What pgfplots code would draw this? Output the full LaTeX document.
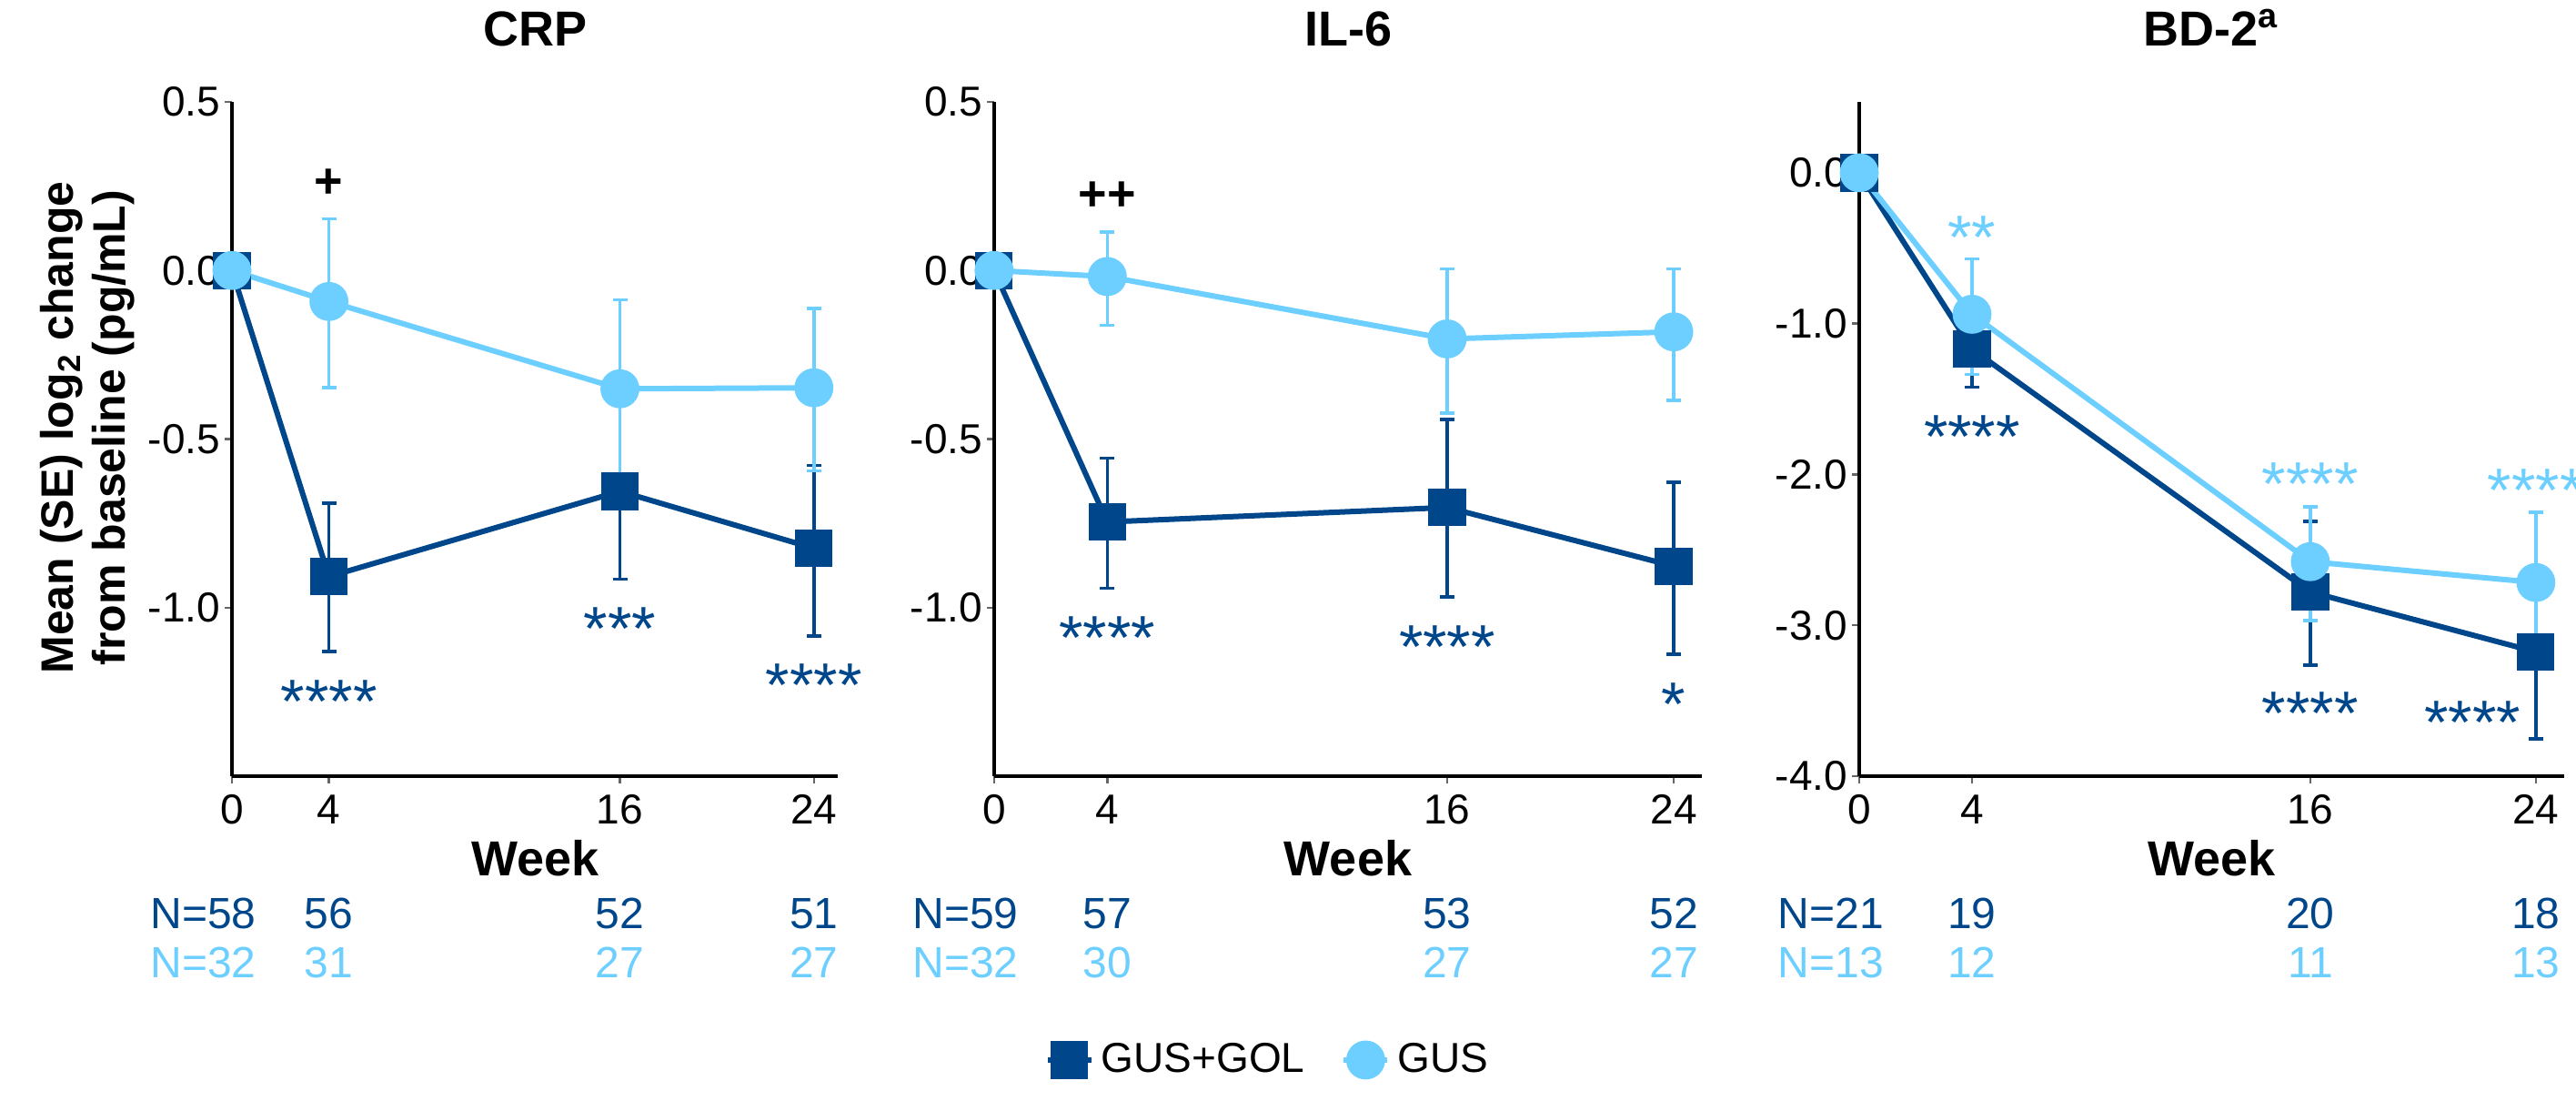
\documentclass[border=0pt]{standalone}
\usepackage{fontspec}
\setmainfont{Liberation Sans}
\usepackage{pgfplots}
\pgfplotsset{compat=1.18}
\definecolor{dk}{HTML}{00468A}
\definecolor{lt}{HTML}{6CCFFF}
\pgfplotsset{
  panel/.style={
    scale only axis, anchor=south west,
    height=185.25pt,
    xmin=0, xmax=25,
    xtick={0,4,16,24}, xticklabels={0,4,16,24},
    axis x line*=bottom, axis y line*=left,
    axis line style={line width=1pt},
    tick align=outside, major tick length=2pt,
    tick style={line width=0.6pt, black!60},
    clip=false,
    ticklabel style={font=\fontsize{11.5}{12}\selectfont},
    xticklabel style={anchor=north, inner sep=0pt, yshift=-3pt},
    yticklabel style={anchor=east, inner sep=0pt, xshift=-1pt},
    title style={font=\fontsize{13.5}{14}\selectfont\bfseries, at={(axis description cs:0.5,1)}, anchor=base, yshift=9.25pt},
    xlabel={Week},
    xlabel style={font=\fontsize{13.5}{14}\selectfont\bfseries, at={(axis description cs:0.5,0)}, anchor=center, yshift=-22.5pt},
    legend image code/.code={\draw[mark repeat=2,mark phase=2,#1] plot coordinates {(-6pt,0pt) (0pt,0pt) (6pt,0pt)};},
  },
  dkser/.style={color=dk, line width=1.5pt, mark=square*, mark size=4.4pt, mark options={solid, fill=dk},
    error bars/y dir=both, error bars/y explicit,
    error bars/error bar style={line width=0.9pt, dk},
    error bars/error mark options={rotate=90, mark size=2pt, line width=0.9pt, dk}},
  ltser/.style={color=lt, line width=1.5pt, mark=*, mark size=4.6pt, mark options={solid, fill=lt},
    error bars/y dir=both, error bars/y explicit,
    error bars/error bar style={line width=0.9pt, lt},
    error bars/error mark options={rotate=90, mark size=2pt, line width=0.9pt, lt}},
}
\tikzset{
  ast/.style={anchor=base, yshift=-9.6pt, font=\fontsize{17}{17}\selectfont, inner sep=0pt},
  pl/.style={anchor=center, font=\fontsize{13.5}{14}\selectfont\bfseries, inner sep=0pt},
  nl/.style={anchor=center, font=\fontsize{12}{12}\selectfont, inner sep=0pt},
}
\begin{document}
\begin{tikzpicture}
\useasboundingbox (0,0) rectangle (708pt,302.25pt);
% ---------------- CRP ----------------
\begin{axis}[panel, at={(63.75pt,89pt)}, width=166.6pt,
  ymin=-1.5, ymax=0.5, ytick={-1,-0.5,0,0.5}, yticklabels={-1.0,-0.5,0.0,0.5},
  title={CRP}]
\addplot[dkser] table[x=x,y=y,y error plus=ep,y error minus=em] {
x y ep em
0 0 0 0
4 -0.908 0.218 0.222
16 -0.655 0.261 0.261
24 -0.824 0.246 0.260
};
\addplot[ltser] table[x=x,y=y,y error plus=ep,y error minus=em] {
x y ep em
0 0 0 0
4 -0.092 0.245 0.256
16 -0.351 0.264 0.264
24 -0.348 0.235 0.246
};
\node[pl] at (axis cs:4,0.258) {+};
\node[ast, dk] at (axis cs:4,-1.238) {****};
\node[ast, dk] at (axis cs:16,-1.023) {***};
\node[ast, dk] at (axis cs:24,-1.19) {****};
\node[nl, dk] at ({axis cs:0,0}|-{rel axis cs:0,-0.2038}) {\llap{N=}58};
\node[nl, dk] at ({axis cs:4,0}|-{rel axis cs:0,-0.2038}) {56};
\node[nl, dk] at ({axis cs:16,0}|-{rel axis cs:0,-0.2038}) {52};
\node[nl, dk] at ({axis cs:24,0}|-{rel axis cs:0,-0.2038}) {51};
\node[nl, lt] at ({axis cs:0,0}|-{rel axis cs:0,-0.2767}) {\llap{N=}32};
\node[nl, lt] at ({axis cs:4,0}|-{rel axis cs:0,-0.2767}) {31};
\node[nl, lt] at ({axis cs:16,0}|-{rel axis cs:0,-0.2767}) {27};
\node[nl, lt] at ({axis cs:24,0}|-{rel axis cs:0,-0.2767}) {27};
\end{axis}
% ---------------- IL-6 ----------------
\begin{axis}[panel, at={(273.2pt,89pt)}, width=194.6pt,
  ymin=-1.5, ymax=0.5, ytick={-1,-0.5,0,0.5}, yticklabels={-1.0,-0.5,0.0,0.5},
  title={IL-6},
  legend columns=2,
  legend style={at={(0.39,-0.421)}, anchor=center, draw=none, fill=none,
    font=\fontsize{11.5}{12}\selectfont,
    /tikz/every even column/.append style={column sep=8pt}}]
\addplot[dkser] table[x=x,y=y,y error plus=ep,y error minus=em] {
x y ep em
0 0 0 0
4 -0.746 0.189 0.197
16 -0.703 0.261 0.266
24 -0.877 0.249 0.261
};
\addlegendentry{GUS+GOL}
\addplot[ltser] table[x=x,y=y,y error plus=ep,y error minus=em] {
x y ep em
0 0 0 0
4 -0.018 0.132 0.145
16 -0.203 0.208 0.220
24 -0.182 0.187 0.203
};
\addlegendentry{GUS}
\node[pl] at (axis cs:4,0.22) {++};
\node[ast, dk] at (axis cs:4,-1.05) {****};
\node[ast, dk] at (axis cs:16,-1.077) {****};
\node[ast, dk] at (axis cs:24,-1.246) {*};
\node[nl, dk] at ({axis cs:0,0}|-{rel axis cs:0,-0.2038}) {\llap{N=}59};
\node[nl, dk] at ({axis cs:4,0}|-{rel axis cs:0,-0.2038}) {57};
\node[nl, dk] at ({axis cs:16,0}|-{rel axis cs:0,-0.2038}) {53};
\node[nl, dk] at ({axis cs:24,0}|-{rel axis cs:0,-0.2038}) {52};
\node[nl, lt] at ({axis cs:0,0}|-{rel axis cs:0,-0.2767}) {\llap{N=}32};
\node[nl, lt] at ({axis cs:4,0}|-{rel axis cs:0,-0.2767}) {30};
\node[nl, lt] at ({axis cs:16,0}|-{rel axis cs:0,-0.2767}) {27};
\node[nl, lt] at ({axis cs:24,0}|-{rel axis cs:0,-0.2767}) {27};
\end{axis}
% ---------------- BD-2 ----------------
\begin{axis}[panel, at={(511pt,89pt)}, width=193.7pt,
  ymin=-4, ymax=0.47, ytick={-4,-3,-2,-1,0}, yticklabels={-4.0,-3.0,-2.0,-1.0,0.0},
  title={BD-2\textsuperscript{a}}]
\addplot[dkser] table[x=x,y=y,y error plus=ep,y error minus=em] {
x y ep em
0 0 0 0
4 -1.169 0.253 0.253
16 -2.779 0.468 0.484
24 -3.176 0.546 0.578
};
\addplot[ltser] table[x=x,y=y,y error plus=ep,y error minus=em] {
x y ep em
0 0 0 0
4 -0.938 0.367 0.398
16 -2.578 0.363 0.391
24 -2.716 0.467 0.467
};
\node[ast, lt] at (axis cs:4,-0.339) {**};
\node[ast, dk] at (axis cs:4,-1.661) {****};
\node[ast, lt] at (axis cs:16,-1.976) {****};
\node[ast, lt] at (axis cs:24,-2.017) {****};
\node[ast, dk] at (axis cs:16,-3.495) {****};
\node[ast, dk] at (axis cs:21.75,-3.557) {****};
\node[nl, dk] at ({axis cs:0,0}|-{rel axis cs:0,-0.2038}) {\llap{N=}21};
\node[nl, dk] at ({axis cs:4,0}|-{rel axis cs:0,-0.2038}) {19};
\node[nl, dk] at ({axis cs:16,0}|-{rel axis cs:0,-0.2038}) {20};
\node[nl, dk] at ({axis cs:24,0}|-{rel axis cs:0,-0.2038}) {18};
\node[nl, lt] at ({axis cs:0,0}|-{rel axis cs:0,-0.2767}) {\llap{N=}13};
\node[nl, lt] at ({axis cs:4,0}|-{rel axis cs:0,-0.2767}) {12};
\node[nl, lt] at ({axis cs:16,0}|-{rel axis cs:0,-0.2767}) {11};
\node[nl, lt] at ({axis cs:24,0}|-{rel axis cs:0,-0.2767}) {13};
\end{axis}
\node[rotate=90, align=center, font=\fontsize{12.5}{14.25}\selectfont\bfseries] at (24pt,184.75pt)
  {Mean (SE) log\textsubscript{2} change\\from baseline (pg/mL)};
\end{tikzpicture}
\end{document}
